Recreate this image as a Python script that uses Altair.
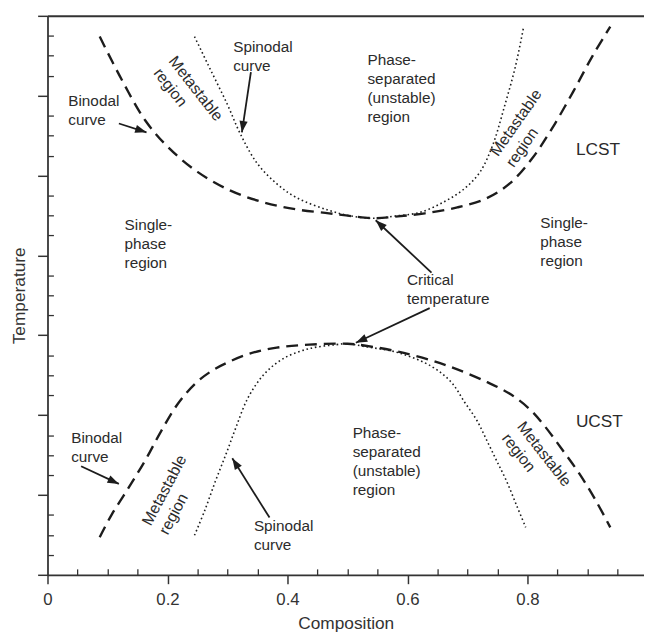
import math
import altair as alt
import pandas as pd

# ---------------- data (composition 0..1, temperature in axis units 0..7) ----------------
lcst_binodal_x = [0.087, 0.124, 0.163, 0.201, 0.250, 0.305, 0.361, 0.415, 0.469, 0.509, 0.547,
                  0.584, 0.629, 0.683, 0.731, 0.770, 0.807, 0.840, 0.876, 0.909, 0.938]
lcst_binodal_y = [6.740, 6.196, 5.689, 5.355, 5.046, 4.811, 4.663, 4.576, 4.527, 4.489, 4.465,
                  4.489, 4.527, 4.601, 4.712, 4.898, 5.207, 5.578, 6.048, 6.505, 6.864]

lcst_spinodal_x = [0.245, 0.272, 0.300, 0.321, 0.349, 0.382, 0.415, 0.469, 0.509, 0.547,
                   0.579, 0.621, 0.662, 0.695, 0.721, 0.742, 0.762, 0.780, 0.793]
lcst_spinodal_y = [6.740, 6.320, 5.887, 5.528, 5.157, 4.898, 4.724, 4.564, 4.489, 4.465,
                   4.492, 4.539, 4.675, 4.836, 5.046, 5.380, 5.875, 6.369, 6.839]

ucst_binodal_x = [0.087, 0.107, 0.135, 0.163, 0.189, 0.217, 0.247, 0.275, 0.300, 0.337, 0.382,
                  0.436, 0.500, 0.530, 0.584, 0.640, 0.683, 0.733, 0.772, 0.805, 0.831, 0.859,
                  0.887, 0.914, 0.938]
ucst_binodal_y = [0.470, 0.754, 1.088, 1.435, 1.794, 2.139, 2.400, 2.560, 2.659, 2.770, 2.845,
                  2.882, 2.894, 2.869, 2.795, 2.684, 2.572, 2.412, 2.260, 2.065, 1.840, 1.556,
                  1.261, 0.928, 0.594]

ucst_spinodal_x = [0.245, 0.262, 0.280, 0.298, 0.314, 0.334, 0.361, 0.393, 0.436, 0.481, 0.500,
                   0.530, 0.584, 0.640, 0.673, 0.695, 0.716, 0.733, 0.749, 0.765, 0.782, 0.797]
ucst_spinodal_y = [0.495, 0.804, 1.175, 1.521, 1.843, 2.214, 2.511, 2.708, 2.832, 2.882, 2.894,
                   2.857, 2.783, 2.610, 2.412, 2.164, 1.929, 1.670, 1.422, 1.175, 0.866, 0.594]

# annotation arrows (start -> tip)
arrow_x0 = [0.339, 0.119, 0.640, 0.637, 0.056, 0.370]
arrow_y0 = [6.295, 5.652, 3.784, 3.339, 1.360, 0.717]
arrow_x1 = [0.324, 0.165, 0.547, 0.514, 0.119, 0.308]
arrow_y1 = [5.541, 5.541, 4.440, 2.906, 1.138, 1.459]

# horizontal annotation texts (position = first line)
note_text = ["Spinodal\ncurve", "Binodal\ncurve", "Phase-\nseparated\n(unstable)\nregion",
             "Single-\nphase\nregion", "Single-\nphase\nregion", "Critical\ntemperature",
             "Binodal\ncurve", "Spinodal\ncurve", "Phase-\nseparated\n(unstable)\nregion"]
note_x = [0.3095, 0.0346, 0.5333, 0.1284, 0.8214, 0.5992, 0.0395, 0.3440, 0.5086]
note_y = [6.604, 5.930, 6.443, 4.378, 4.403, 3.685, 1.707, 0.606, 1.769]

# big labels
big_text = ["LCST", "UCST"]
big_x = [0.8807, 0.8807]
big_y = [5.318, 1.917]

# rotated "Metastable region" labels (position = start of first line)
meta_text = ["Metastable\nregion"] * 4
meta_x = [0.2074, 0.7440, 0.1647, 0.7880]
meta_y = [6.468, 5.265, 0.631, 1.892]
meta_angle = [52, 305, 298, 52]

x_major = [0, 0.2, 0.4, 0.6, 0.8]
x_minor = [0.05, 0.1, 0.15, 0.25, 0.3, 0.35, 0.45, 0.5, 0.55, 0.65, 0.7, 0.75, 0.85, 0.9, 0.95]
y_major = [0, 1, 2, 3, 4, 5, 6, 7]
y_minor = [k * 0.25 for k in range(1, 28) if k % 4 != 0]

# ---------------- layout / style ----------------
W, H = 604, 566
XMAX, YMAX = 0.9942, 7
INK = "#1c1c1c"
AX = "#333333"
TXT = "#2b2b2b"
FONT = "Liberation Sans"

rows = []
for name, style, xs_, ys_ in [
    ("lcst_b", "binodal", lcst_binodal_x, lcst_binodal_y),
    ("lcst_s", "spinodal", lcst_spinodal_x, lcst_spinodal_y),
    ("ucst_b", "binodal", ucst_binodal_x, ucst_binodal_y),
    ("ucst_s", "spinodal", ucst_spinodal_x, ucst_spinodal_y),
]:
    for a, b in zip(xs_, ys_):
        rows.append({"curve": name, "style": style, "x": a, "y": b})
curves = pd.DataFrame(rows)

px_x = W / XMAX
px_y = H / YMAX
arrows = pd.DataFrame({"x0": arrow_x0, "y0": arrow_y0, "x1": arrow_x1, "y1": arrow_y1})
arrows["angle"] = [
    math.degrees(math.atan2((b - a) * px_x, (d - c) * px_y)) % 360
    for a, b, c, d in zip(arrow_x0, arrow_x1, arrow_y0, arrow_y1)
]
notes = pd.DataFrame({"label": note_text, "x": note_x, "y": note_y})
bigs = pd.DataFrame({"label": big_text, "x": big_x, "y": big_y})
metas = pd.DataFrame({"label": meta_text, "x": meta_x, "y": meta_y, "angle": meta_angle})

xsc = alt.Scale(domain=[0, XMAX], nice=False, zero=False)
ysc = alt.Scale(domain=[0, YMAX], nice=False, zero=False)

ax_x_main = alt.Axis(
    orient="bottom", values=x_major, format="~g", grid=False,
    domainColor=AX, domainWidth=1.8, tickColor=AX, tickWidth=1.5, tickSize=9,
    labelFont=FONT, labelFontSize=17, labelColor=AX, labelPadding=8, labelFlush=False,
    title="Composition", titleFont=FONT, titleFontSize=17.5, titleFontWeight="normal",
    titleColor=AX, titleX=W / 2, titleY=54, titleBaseline="alphabetic", titleAlign="center",
)
ax_y_main = alt.Axis(
    orient="left", values=y_major, grid=False, labels=False,
    domainColor=AX, domainWidth=1.8, tickColor=AX, tickWidth=1.5, tickSize=10,
    title="Temperature", titleFont=FONT, titleFontSize=17.5, titleFontWeight="normal",
    titleColor=AX, titleAngle=270, titleX=-23, titleY=H / 2, titleBaseline="alphabetic",
    titleAlign="center",
)
ax_x_minor = alt.Axis(
    orient="bottom", values=x_minor, offset=-6, tickSize=6, tickWidth=1.3, tickColor=AX,
    domain=False, labels=False, grid=False, title=None,
)
ax_y_minor = alt.Axis(
    orient="left", values=y_minor, offset=-6, tickSize=6, tickWidth=1.3, tickColor=AX,
    domain=False, labels=False, grid=False, title=None,
)
ax_x_top = alt.Axis(
    orient="top", ticks=False, labels=False, grid=False, title=None,
    domainColor=AX, domainWidth=2,
)

binodal = alt.Chart(curves).transform_filter(alt.datum.style == "binodal").mark_line(
    color=INK, strokeWidth=2.4, strokeDash=[12, 7], interpolate="catmull-rom"
).encode(
    x=alt.X("x:Q", scale=xsc, axis=ax_x_main),
    y=alt.Y("y:Q", scale=ysc, axis=ax_y_main),
    detail="curve:N",
)

spinodal = alt.Chart(curves).transform_filter(alt.datum.style == "spinodal").mark_line(
    color=INK, strokeWidth=1.6, strokeDash=[1.6, 2.8], interpolate="catmull-rom"
).encode(
    x=alt.X("x:Q", scale=xsc, axis=ax_x_minor),
    y=alt.Y("y:Q", scale=ysc, axis=ax_y_minor),
    detail="curve:N",
)

shafts = alt.Chart(arrows).mark_rule(color=INK, strokeWidth=1.8).encode(
    x=alt.X("x0:Q", scale=xsc, axis=ax_x_top),
    y=alt.Y("y0:Q", scale=ysc, axis=None),
    x2="x1:Q",
    y2="y1:Q",
)

heads = alt.Chart(arrows).mark_point(
    shape="M0,0 L-0.36,1 L0.36,1 Z", filled=True, size=529, color=INK, opacity=1, strokeWidth=0
).encode(
    x=alt.X("x1:Q", scale=xsc, axis=None),
    y=alt.Y("y1:Q", scale=ysc, axis=None),
    angle=alt.Angle("angle:Q", scale=None),
)

note_layer = alt.Chart(notes).mark_text(
    align="left", baseline="middle", font=FONT, fontSize=15.5, lineHeight=19,
    lineBreak="\n", color=TXT
).encode(
    x=alt.X("x:Q", scale=xsc, axis=None),
    y=alt.Y("y:Q", scale=ysc, axis=None),
    text="label:N",
)

big_layer = alt.Chart(bigs).mark_text(
    align="left", baseline="middle", font=FONT, fontSize=17.5, color=TXT
).encode(
    x=alt.X("x:Q", scale=xsc, axis=None),
    y=alt.Y("y:Q", scale=ysc, axis=None),
    text="label:N",
)

meta_layer = alt.Chart(metas).mark_text(
    align="left", baseline="middle", font=FONT, fontSize=16, lineHeight=19.5,
    lineBreak="\n", color=TXT
).encode(
    x=alt.X("x:Q", scale=xsc, axis=None),
    y=alt.Y("y:Q", scale=ysc, axis=None),
    text="label:N",
    angle=alt.Angle("angle:Q", scale=None),
)

chart = alt.layer(
    binodal, spinodal, shafts, heads, note_layer, big_layer, meta_layer
).resolve_axis(
    x="independent", y="independent"
).properties(
    width=W, height=H,
    autosize=alt.AutoSizeParams(type="none"),
    padding={"left": 40, "top": 4, "right": 0, "bottom": 55},
).configure_view(stroke=None)

chart.save("out.html", embed_options={"renderer": "svg", "actions": False})
